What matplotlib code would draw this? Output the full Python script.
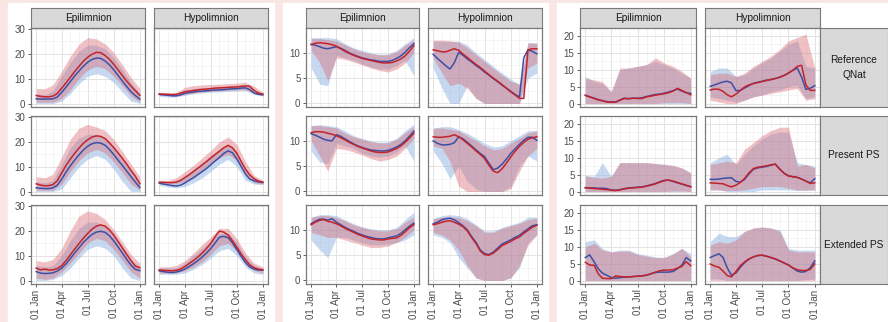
import numpy as np
import matplotlib.pyplot as plt
from matplotlib.patches import Rectangle

plt.rcParams['font.family'] = ['Liberation Sans', 'DejaVu Sans']

W, H = 888, 322

# day of year grids (lines: half-monthly, ribbons: monthly)
days25 = [0, 15, 31, 45, 59, 74, 90, 105, 120, 135, 151, 166, 181, 196, 212, 227, 243, 258, 273, 288, 304, 319, 334, 349, 365]
days13 = [0, 31, 59, 90, 120, 151, 181, 212, 243, 273, 304, 334, 365]
tick_days = [0, 90, 181, 273, 365]
tick_labels = ['01 Jan', '01 Apr', '01 Jul', '01 Oct', '01 Jan']
month_days = [31, 59, 120, 151, 212, 243, 304, 334]

layers = ['Epilimnion', 'Hypolimnion']
scenarios = ['Reference\nQNat', 'Present PS', 'Extended PS']

# ---------------- chart 1 ----------------
wt_ref_epi_b = [1.9, 1.8, 1.8, 1.8, 1.9, 2.6, 4.5, 6.6, 8.8, 11.0, 13.1, 15.0, 16.6, 17.7, 18.3, 18.2, 17.1, 15.6, 13.6, 11.4, 9.0, 6.8, 4.8, 3.2, 1.8]
wt_ref_epi_r = [3.2, 2.9, 2.7, 2.7, 3.0, 4.0, 6.2, 8.3, 10.5, 12.8, 15.0, 17.0, 18.6, 19.8, 20.6, 20.5, 19.3, 17.8, 15.8, 13.6, 11.2, 9.0, 7.0, 5.2, 3.3]
wt_ref_epi_b_lo = [0, 0, 0, 1, 4, 8, 11, 12, 11, 8.5, 4.5, 1, 0]
wt_ref_epi_b_hi = [4, 3.5, 5, 11, 16.5, 21, 23.5, 23.5, 22, 18.5, 13.5, 8.5, 4]
wt_ref_epi_r_lo = [0.5, 0.5, 0.5, 2, 5.5, 10, 13.5, 15, 14, 11, 7, 3, 0.5]
wt_ref_epi_r_hi = [6, 6, 7.5, 13, 19, 24, 26.5, 26, 24, 20.5, 15.5, 10.5, 6]

wt_ref_hyp_b = [3.7, 3.5, 3.3, 3.1, 3.1, 3.4, 4.1, 4.4, 4.6, 4.9, 5.0, 5.1, 5.3, 5.4, 5.5, 5.6, 5.8, 5.9, 6.0, 6.2, 6.3, 5.6, 4.2, 3.7, 3.5]
wt_ref_hyp_r = [3.8, 3.8, 3.7, 3.6, 3.7, 4.1, 4.7, 5.0, 5.2, 5.5, 5.7, 5.8, 6.0, 6.2, 6.3, 6.4, 6.5, 6.6, 6.7, 6.9, 7.1, 6.9, 5.3, 4.2, 3.8]
wt_ref_hyp_b_lo = [3.0, 2.6, 2.6, 3.3, 3.9, 4.3, 4.5, 4.7, 4.9, 5.0, 5.2, 3.7, 3.0]
wt_ref_hyp_b_hi = [4.3, 4.0, 4.0, 5.5, 6.0, 6.3, 6.5, 6.7, 6.9, 7.0, 7.5, 5.5, 4.2]
wt_ref_hyp_r_lo = [3.2, 3.2, 3.1, 3.6, 4.2, 4.6, 4.9, 5.1, 5.3, 5.5, 5.5, 4.2, 3.2]
wt_ref_hyp_r_hi = [4.5, 4.3, 4.3, 6.5, 7.2, 7.5, 7.7, 7.8, 8.0, 8.2, 8.5, 7.0, 4.5]

wt_pres_epi_b = [1.5, 1.3, 1.2, 1.2, 1.5, 2.5, 5.0, 7.8, 10.3, 12.6, 14.8, 16.7, 18.2, 19.2, 19.7, 19.5, 18.6, 16.9, 14.9, 12.7, 10.4, 8.2, 6.0, 3.8, 1.7]
wt_pres_epi_r = [3.1, 2.6, 2.3, 2.4, 2.8, 4.3, 7.5, 10.5, 13.0, 15.3, 17.5, 19.4, 20.8, 21.9, 22.4, 22.2, 21.3, 19.6, 17.7, 15.6, 13.3, 11.0, 8.5, 6.2, 3.2]
wt_pres_epi_b_lo = [0, 0, 0, 1, 5.5, 10, 13, 14.5, 13, 9, 4, 0, 0]
wt_pres_epi_b_hi = [4, 3.5, 4.5, 11, 17.5, 21.5, 23, 23, 21.5, 18, 13, 8, 3.5]
wt_pres_epi_r_lo = [0.5, 0.5, 0.5, 3, 8, 12.5, 15.5, 17, 15.5, 12, 7.5, 3, 0.5]
wt_pres_epi_r_hi = [6, 5.5, 7, 14, 21, 25.5, 27, 26, 24.5, 21, 16, 11, 6]

wt_pres_hyp_b = [3.4, 3.0, 2.7, 2.4, 2.2, 2.5, 3.4, 4.5, 5.5, 6.7, 8.0, 9.2, 10.7, 12.2, 13.7, 15.3, 16.4, 15.6, 13.2, 10.2, 7.0, 5.0, 4.3, 3.9, 3.6]
wt_pres_hyp_r = [3.7, 3.7, 3.6, 3.6, 3.8, 4.4, 5.6, 6.7, 8.0, 9.3, 10.7, 12.0, 13.4, 14.8, 16.2, 17.6, 18.6, 17.6, 15.5, 12.2, 9.0, 6.7, 5.2, 4.2, 3.8]
wt_pres_hyp_b_lo = [2.5, 1.8, 1.5, 2, 3.5, 5.5, 8, 11, 13, 10, 4.5, 3, 2.8]
wt_pres_hyp_b_hi = [4, 3.5, 4, 6, 8.5, 11.5, 14.5, 17, 19, 16, 9, 5, 4]
wt_pres_hyp_r_lo = [3, 3, 3, 4, 5.5, 8, 11, 13.5, 15, 12.5, 6.5, 3.5, 3]
wt_pres_hyp_r_hi = [4.5, 4.5, 5.5, 8, 10.5, 13.5, 16.5, 20, 22, 19, 12, 6.5, 4.5]

wt_ext_epi_b = [3.6, 3.0, 2.8, 2.9, 3.1, 3.8, 5.0, 6.7, 8.8, 11.0, 13.2, 15.3, 17.0, 18.5, 19.5, 19.8, 19.4, 18.0, 16.0, 13.6, 11.0, 8.5, 6.2, 4.5, 4.0]
wt_ext_epi_r = [5.0, 4.3, 4.6, 4.2, 4.3, 4.8, 6.0, 8.0, 10.3, 12.6, 14.9, 17.0, 18.9, 20.6, 21.9, 22.4, 21.9, 20.4, 18.3, 15.8, 13.1, 10.5, 8.0, 5.8, 5.2]
wt_ext_epi_b_lo = [0, 0, 0.5, 2, 5, 9, 12.5, 14, 13, 10, 5, 1, 0]
wt_ext_epi_b_hi = [6, 5.5, 6, 10, 16, 21, 23.5, 23.5, 22, 18.5, 13.5, 8.5, 5.5]
wt_ext_epi_r_lo = [1, 0.5, 1, 3.5, 7, 11, 15, 17, 16, 12.5, 8, 3.5, 1]
wt_ext_epi_r_hi = [8, 7.5, 8.5, 13, 20, 26, 28, 27, 24.5, 20.5, 15.5, 10.5, 7]

wt_ext_hyp_b = [3.9, 3.6, 3.3, 3.2, 3.4, 3.8, 4.6, 5.6, 6.7, 7.9, 9.4, 11.0, 12.8, 15.0, 17.4, 17.8, 17.2, 15.2, 12.5, 9.8, 7.2, 5.4, 4.6, 4.2, 4.2]
wt_ext_hyp_r = [4.3, 4.1, 4.0, 3.9, 4.1, 4.5, 5.6, 6.8, 8.0, 9.3, 11.0, 12.8, 14.8, 17.5, 19.9, 19.5, 18.3, 16.0, 13.5, 10.8, 8.3, 6.3, 5.2, 4.6, 4.3]
wt_ext_hyp_b_lo = [2.5, 2.5, 2.5, 3, 4.5, 6.5, 9, 12, 13, 10, 5.5, 3, 2.5]
wt_ext_hyp_b_hi = [5, 5, 5, 7, 10, 13, 16, 19, 19, 15.5, 9.5, 6, 5]
wt_ext_hyp_r_lo = [3, 3, 3, 4, 5.5, 7.5, 10.5, 14, 15, 12, 7, 4, 3]
wt_ext_hyp_r_hi = [5.5, 5.5, 6, 8, 11, 14.5, 17.5, 21, 21, 17, 11, 7, 5.5]

# ---------------- chart 2 ----------------
do_ref_epi_b = [11.7, 11.5, 11.2, 10.9, 10.8, 11.0, 11.2, 10.9, 10.5, 10.0, 9.6, 9.3, 9.0, 8.8, 8.6, 8.5, 8.3, 8.3, 8.3, 8.5, 8.9, 9.4, 10.1, 11.0, 11.8]
do_ref_epi_r = [11.6, 11.9, 12.0, 11.9, 11.8, 11.6, 11.3, 10.8, 10.3, 9.9, 9.5, 9.2, 8.9, 8.7, 8.5, 8.3, 8.1, 8.0, 8.0, 8.1, 8.4, 8.8, 9.4, 10.3, 11.4]
do_ref_epi_b_lo = [7, 3.8, 3.5, 9.5, 9, 8.5, 7.8, 7.2, 6.8, 6.8, 7.5, 8.5, 5.5]
do_ref_epi_b_hi = [13, 13, 13, 12.8, 11.8, 11, 10.5, 10, 9.7, 9.8, 10.5, 11.8, 13]
do_ref_epi_r_lo = [10.5, 8, 4.5, 9, 8.7, 8.2, 7.6, 7, 6.5, 6.2, 6.8, 8, 10]
do_ref_epi_r_hi = [12.8, 12.8, 12.6, 12.3, 11.6, 10.8, 10.2, 9.8, 9.6, 9.6, 10.2, 11.5, 12.5]

do_ref_hyp_b = [9.7, 8.9, 8.1, 7.4, 6.8, 8.0, 10.1, 9.5, 8.8, 8.2, 7.5, 6.9, 6.2, 5.6, 4.9, 4.3, 3.6, 3.0, 2.4, 1.8, 1.3, 9.0, 10.6, 10.3, 9.8]
do_ref_hyp_r = [10.6, 10.4, 10.2, 10.2, 10.5, 10.8, 10.5, 9.75, 9.1, 8.4, 7.7, 7.1, 6.4, 5.7, 5.0, 4.4, 3.7, 3.0, 2.3, 1.7, 1.0, 1.0, 10.6, 10.8, 10.8]
do_ref_hyp_b_lo = [7, 3, 0, 0, 3.5, 1, 0, 0, 0, 0, 0, 5, 6]
do_ref_hyp_b_hi = [12.3, 12.3, 12.2, 12.3, 11.5, 10, 8.7, 7.3, 6, 4.8, 3.8, 12, 12]
do_ref_hyp_r_lo = [9, 6, 3.5, 4, 3, 1, 0, 0, 0, 0, 0, 7, 8]
do_ref_hyp_r_hi = [12.5, 12.5, 12.4, 12.1, 11.0, 9.6, 8.3, 6.9, 5.6, 4.4, 3.8, 12, 11.8]

do_pres_epi_b = [11.4, 11.1, 10.7, 10.3, 10.1, 10.0, 11.2, 10.9, 10.4, 9.9, 9.4, 9.0, 8.7, 8.4, 8.2, 8.1, 8.0, 8.0, 8.1, 8.4, 8.8, 9.3, 10.0, 10.9, 11.9]
do_pres_epi_r = [11.6, 11.8, 11.8, 11.7, 11.5, 11.3, 11.0, 10.6, 10.2, 9.7, 9.3, 8.9, 8.6, 8.3, 8.0, 7.8, 7.7, 7.7, 7.8, 8.1, 8.5, 9.0, 9.7, 10.5, 11.5]
do_pres_epi_b_lo = [8, 5.8, 5.5, 9.5, 9, 8.5, 7.6, 7, 6.8, 7, 7.8, 9, 6]
do_pres_epi_b_hi = [13, 13.2, 13, 12.8, 12, 11, 10.5, 10, 9.7, 9.8, 10.5, 12, 13.3]
do_pres_epi_r_lo = [10, 7, 4, 8.5, 8.3, 7.8, 7.2, 6.5, 6, 6.3, 7, 8.5, 10.5]
do_pres_epi_r_hi = [13, 13, 12.8, 12.5, 11.5, 10.8, 10.3, 9.8, 9.6, 9.6, 10.3, 11.6, 12.8]

do_pres_hyp_b = [10.0, 9.5, 9.2, 9.2, 9.3, 9.6, 10.8, 10.4, 9.7, 9.0, 8.2, 7.5, 6.9, 5.6, 4.3, 4.6, 5.4, 6.4, 7.5, 8.4, 9.3, 10.1, 10.7, 10.7, 10.1]
do_pres_hyp_r = [10.8, 10.7, 10.7, 10.8, 10.9, 11.2, 10.8, 10.2, 9.5, 8.8, 8.0, 7.3, 6.5, 5.2, 4.0, 3.7, 4.5, 5.6, 6.8, 7.9, 8.9, 9.7, 10.3, 10.6, 10.8]
do_pres_hyp_b_lo = [8, 5.5, 2.5, 5, 2, 0.5, 0, 0, 0, 1, 5, 7, 6]
do_pres_hyp_b_hi = [12.5, 12.8, 12.8, 12.2, 11.5, 10.5, 9.5, 8.8, 9, 10, 11, 12, 12]
do_pres_hyp_r_lo = [9, 8.5, 6, 1, 0, 0, 0, 0, 0, 0.5, 4, 7, 8.5]
do_pres_hyp_r_hi = [12.5, 12.5, 12.3, 12, 11, 10, 9, 8.2, 8.5, 9.5, 10.5, 11.5, 12]

do_ext_epi_b = [11.2, 11.7, 12.1, 12.1, 11.9, 12.2, 11.5, 11.0, 10.5, 10.1, 9.7, 9.3, 9.0, 8.7, 8.5, 8.3, 8.2, 8.2, 8.4, 8.6, 8.8, 9.3, 10.0, 10.7, 11.3]
do_ext_epi_r = [11.0, 11.5, 11.9, 12.0, 11.7, 11.5, 11.2, 10.8, 10.3, 9.9, 9.5, 9.1, 8.8, 8.5, 8.2, 8.1, 8.0, 8.0, 8.2, 8.3, 8.4, 8.9, 9.6, 10.4, 11.0]
do_ext_epi_b_lo = [8, 6, 4.5, 8.5, 8.5, 8, 7.5, 7, 7, 7.2, 7.5, 8, 9]
do_ext_epi_b_hi = [12.5, 13, 13, 12.8, 12, 11.2, 10.6, 10.2, 10, 10, 10.5, 12, 13.5]
do_ext_epi_r_lo = [9.5, 9, 8.5, 8.5, 8, 7.5, 7, 6.5, 6.5, 6.8, 7.5, 8.5, 10]
do_ext_epi_r_hi = [12.5, 12.8, 12.8, 12.4, 11.8, 11, 10.5, 10, 9.8, 9.8, 10.2, 11.5, 12.5]

do_ext_hyp_b = [11.2, 11.5, 12.0, 12.2, 12.3, 12.0, 11.4, 10.8, 10.0, 8.7, 7.5, 6.0, 5.3, 5.1, 5.6, 6.4, 7.2, 7.6, 8.0, 8.5, 8.9, 9.6, 10.2, 10.8, 11.0]
do_ext_hyp_r = [11.0, 11.2, 11.5, 11.7, 11.8, 11.5, 11.1, 10.6, 9.8, 8.5, 7.3, 5.8, 5.1, 5.0, 5.4, 6.1, 6.9, 7.3, 7.7, 8.2, 8.6, 9.3, 9.9, 10.5, 10.9]
do_ext_hyp_b_lo = [9, 8.5, 7.5, 4.5, 2.5, 0.5, 0, 0, 0, 0.5, 2.5, 7.5, 9]
do_ext_hyp_b_hi = [12.2, 12.8, 13, 12.8, 12.2, 11, 9.8, 9.8, 10.5, 11, 11.5, 12.5, 12.5]
do_ext_hyp_r_lo = [9.5, 9, 8, 6, 3, 0.5, 0, 0, 0, 0.5, 3, 7, 9]
do_ext_hyp_r_hi = [12.2, 12.5, 12.5, 12.4, 11.8, 10.8, 9.5, 9.5, 10.3, 10.8, 11.3, 12, 12.3]

# ---------------- chart 3 ----------------
ch_ref_epi_b = [2.5, 2.0, 1.6, 1.2, 0.9, 0.6, 0.5, 0.5, 1.1, 1.6, 1.5, 1.6, 1.6, 1.7, 2.1, 2.4, 2.7, 2.8, 3.1, 3.4, 3.8, 4.3, 3.7, 3.2, 3.0]
ch_ref_epi_r = [2.4, 2.0, 1.5, 1.1, 0.8, 0.5, 0.4, 0.4, 1.0, 1.5, 1.4, 1.6, 1.5, 1.5, 2.0, 2.2, 2.5, 2.7, 2.9, 3.2, 3.7, 4.5, 3.9, 3.3, 2.6]
ch_ref_epi_b_lo = [0, 0, 0, 0, 0, 0, 0, 0, 0, 0, 0, 0, 0]
ch_ref_epi_b_hi = [8, 6.5, 6, 3.5, 10, 10.5, 11, 11.5, 12.5, 11.5, 10.5, 9, 7.5]
ch_ref_epi_r_lo = [0, 0, 0, 0, 0, 0, 0, 0, 0, 0.3, 0.3, 0.3, 0]
ch_ref_epi_r_hi = [7.5, 7, 6.5, 3.5, 10.5, 10.5, 11, 11.5, 13.5, 12, 11, 9.5, 7.5]

ch_ref_hyp_b = [5.1, 5.5, 6.0, 6.4, 6.6, 6.1, 3.8, 3.9, 4.6, 5.3, 6.0, 6.3, 6.6, 6.9, 7.1, 7.4, 7.8, 8.3, 9.0, 9.8, 10.5, 7.8, 4.2, 4.5, 5.3]
ch_ref_hyp_r = [4.0, 4.3, 4.2, 3.6, 2.6, 2.0, 2.8, 3.9, 4.9, 5.5, 5.9, 6.2, 6.5, 6.8, 7.1, 7.4, 7.8, 8.3, 9.0, 9.8, 11.0, 11.3, 5.5, 3.9, 3.9]
ch_ref_hyp_b_lo = [2, 1.5, 1, 0.5, 1, 2, 2.5, 3.5, 4, 5, 5.5, 1.5, 2]
ch_ref_hyp_b_hi = [9.5, 10.5, 10.5, 8, 8.5, 10.5, 12, 13.5, 15.5, 17.5, 18.5, 11, 10.5]
ch_ref_hyp_r_lo = [1, 0.5, 0, 0, 1, 2, 2.5, 3, 3.5, 4, 4.5, 1, 1.5]
ch_ref_hyp_r_hi = [8.5, 9, 9, 8, 9, 11, 12.5, 14, 16, 18.5, 19.5, 20.5, 10.5]

ch_pres_epi_b = [1.2, 1.1, 1.1, 1.0, 1.0, 0.9, 0.5, 0.4, 0.6, 0.9, 1.1, 1.2, 1.3, 1.4, 1.7, 2.0, 2.4, 2.9, 3.3, 3.4, 3.0, 2.6, 2.2, 1.8, 1.5]
ch_pres_epi_r = [1.1, 1.0, 0.9, 0.8, 0.7, 0.6, 0.4, 0.3, 0.5, 0.8, 1.0, 1.1, 1.2, 1.3, 1.6, 1.9, 2.3, 2.8, 3.2, 3.4, 3.1, 2.7, 2.3, 1.9, 1.4]
ch_pres_epi_b_lo = [0, 0, 0, 0, 0, 0, 0, 0, 0, 0, 0, 0, 0]
ch_pres_epi_b_hi = [4.8, 4.5, 8.5, 4.5, 8.5, 8.5, 8.5, 8.5, 8.2, 8.0, 7.6, 7, 5.6]
ch_pres_epi_r_lo = [0, 0, 0, 0, 0, 0, 0, 0, 0, 0, 0.2, 0.2, 0]
ch_pres_epi_r_hi = [4.6, 4.2, 4.0, 4.5, 8.6, 8.6, 8.6, 8.6, 8.3, 8.1, 7.8, 7, 5.5]

ch_pres_hyp_b = [3.6, 3.6, 3.7, 3.9, 4.0, 4.1, 3.0, 2.8, 3.6, 5.2, 6.6, 7.0, 7.2, 7.4, 7.8, 8.1, 6.6, 5.4, 4.7, 4.4, 4.2, 3.7, 3.1, 2.6, 3.8]
ch_pres_hyp_r = [2.6, 2.5, 2.4, 2.3, 1.8, 1.4, 1.9, 2.7, 3.9, 5.5, 6.8, 7.2, 7.4, 7.6, 7.9, 8.1, 6.6, 5.4, 4.6, 4.4, 4.2, 3.7, 3.1, 2.4, 2.6]
ch_pres_hyp_b_lo = [0.5, 0.5, 0, 0, 0, 0, 0.5, 0.5, 0.5, 0.5, 0.3, 0.3, 0.5]
ch_pres_hyp_b_hi = [8.5, 10, 11, 8, 11, 13.5, 15.5, 17, 17.5, 17.5, 8.5, 8, 7.5]
ch_pres_hyp_r_lo = [0.5, 0.5, 0.3, 0.3, 0.5, 1, 1.5, 1.5, 1.5, 1, 0.5, 0.5, 0.5]
ch_pres_hyp_r_hi = [8, 8.5, 9, 8.5, 12.5, 14.5, 16.5, 18, 19, 19, 7.5, 8, 7]

ch_ext_epi_b = [6.8, 7.6, 5.5, 3.5, 2.2, 1.6, 0.9, 0.7, 0.9, 1.0, 1.1, 1.2, 1.3, 1.4, 1.6, 2.0, 2.4, 2.5, 2.5, 2.5, 2.7, 3.5, 4.5, 6.8, 5.8]
ch_ext_epi_r = [5.4, 4.6, 4.5, 2.0, 0.7, 0.6, 0.6, 1.4, 1.2, 1.1, 1.1, 1.2, 1.3, 1.4, 1.6, 2.0, 2.5, 2.9, 3.1, 3.1, 3.2, 3.7, 4.2, 5.6, 4.4]
ch_ext_epi_b_lo = [0, 0, 0, 0, 0, 0, 0, 0, 0, 0, 0, 0, 0]
ch_ext_epi_b_hi = [11.5, 12, 9.5, 8.5, 9, 9, 8, 7.5, 7, 6.8, 8, 9.5, 8]
ch_ext_epi_r_lo = [0, 0, 0, 0, 0, 0, 0, 0, 0, 0, 0, 0, 0]
ch_ext_epi_r_hi = [10, 11, 9, 8.5, 8.7, 8.7, 7.7, 7.2, 6.8, 6.8, 7.8, 9.5, 7]

ch_ext_hyp_b = [6.8, 7.4, 7.9, 6.8, 3.8, 1.6, 2.3, 3.9, 5.3, 6.3, 7.0, 7.4, 7.5, 7.2, 6.8, 6.4, 5.8, 5.2, 4.6, 3.7, 2.8, 2.5, 2.7, 3.8, 5.8]
ch_ext_hyp_r = [4.9, 4.3, 3.9, 2.8, 1.5, 1.1, 2.7, 4.4, 5.5, 6.4, 7.0, 7.4, 7.5, 7.2, 6.8, 6.4, 5.8, 5.2, 4.6, 3.8, 3.2, 3.0, 3.0, 3.3, 4.9]
ch_ext_hyp_b_lo = [0.5, 0.5, 0, 0, 0, 0, 0, 0, 0, 0, 0, 0.3, 0.5]
ch_ext_hyp_b_hi = [11.5, 14, 13, 13, 14.5, 15.5, 15.8, 15.5, 15, 9.5, 9, 9, 9]
ch_ext_hyp_r_lo = [0, 0, 0, 0, 0, 0, 0, 0, 0, 0, 0, 0, 0]
ch_ext_hyp_r_hi = [10.5, 11.5, 11, 12, 14.5, 15.5, 15.8, 15.5, 14.5, 9, 8.5, 8.5, 8.5]

BLUE, RED = '#3d4fa5', '#c3232b'
BLUE_FILL, RED_FILL = '#8fb4e3', '#d9646e'
EDGE = '#7a7a7a'
STRIP = '#d9d9d9'

fig = plt.figure(figsize=(W / 100, H / 100), dpi=100)
fig.patch.set_facecolor('#f8e6e4')


def box(x0, y0, x1, y1):
    return [x0 / W, 1 - y1 / H, (x1 - x0) / W, (y1 - y0) / H]


def strip(x0, y0, x1, y1, text):
    s = fig.add_axes(box(x0, y0, x1, y1))
    s.set_facecolor(STRIP)
    s.set_xticks([])
    s.set_yticks([])
    for sp in s.spines.values():
        sp.set_color(EDGE)
        sp.set_linewidth(0.8)
    s.text(0.5, 0.5, text, ha='center', va='center', fontsize=7.3,
           color='#1a1a1a', linespacing=1.7, transform=s.transAxes)


# white backgrounds for the three plots
for x0, x1 in [(8, 274), (283, 548), (557, 888)]:
    fig.add_artist(Rectangle((x0 / W, 0), (x1 - x0) / W, 1 - 3 / H,
                             transform=fig.transFigure, color='white', zorder=-5))

rows_y = [(28, 107), (116, 195), (205, 284)]
charts = [
    ('wt', [(31, 145), (154, 268)], (-1.4, 30.4), [0, 10, 20, 30], [5, 15, 25]),
    ('do', [(306, 419), (428, 542)], (-0.7, 14.9), [0, 5, 10], [2.5, 7.5, 12.5]),
    ('ch', [(580, 696), (705, 820)], (-1.0, 22.3), [0, 5, 10, 15, 20], [2.5, 7.5, 12.5, 17.5]),
]
row_keys = ['ref', 'pres', 'ext']
col_keys = ['epi', 'hyp']
g = globals()

for name, cols, ylim, yt, ymin in charts:
    for c, (x0, x1) in enumerate(cols):
        strip(x0, 8, x1, 28, layers[c])
        for r, (y0, y1) in enumerate(rows_y):
            ax = fig.add_axes(box(x0, y0, x1, y1))
            key = f'{name}_{row_keys[r]}_{col_keys[c]}'
            ax.fill_between(days13, g[key + '_b_lo'], g[key + '_b_hi'], color=BLUE_FILL, alpha=0.5, lw=0)
            ax.fill_between(days13, g[key + '_r_lo'], g[key + '_r_hi'], color=RED_FILL, alpha=0.4, lw=0)
            ax.plot(days25, g[key + '_b'], color=BLUE, lw=1.1)
            ax.plot(days25, g[key + '_r'], color=RED, lw=1.1)
            ax.set_xlim(-18.25, 383.25)
            ax.set_ylim(*ylim)
            ax.set_xticks(tick_days)
            ax.set_xticks(month_days, minor=True)
            ax.set_xticklabels(tick_labels, rotation=90)
            ax.set_yticks(yt)
            ax.set_yticks(ymin, minor=True)
            ax.grid(which='major', color='#e3e3e3', lw=0.7)
            ax.grid(which='minor', color='#f0f0f0', lw=0.5)
            ax.set_axisbelow(True)
            for sp in ax.spines.values():
                sp.set_color(EDGE)
                sp.set_linewidth(0.9)
            ax.tick_params(which='major', length=2.5, width=0.6, color='#444444',
                           labelsize=7, labelcolor='#4d4d4d', pad=1.5)
            ax.tick_params(which='minor', length=0)
            if c > 0:
                ax.tick_params(axis='y', left=False, labelleft=False)
            if r < 2:
                ax.tick_params(axis='x', bottom=False, labelbottom=False)
            if name == 'ch' and c == 1:
                strip(820, y0, 888, y1, scenarios[r])

fig.savefig('out.png', dpi=100, facecolor=fig.get_facecolor())
